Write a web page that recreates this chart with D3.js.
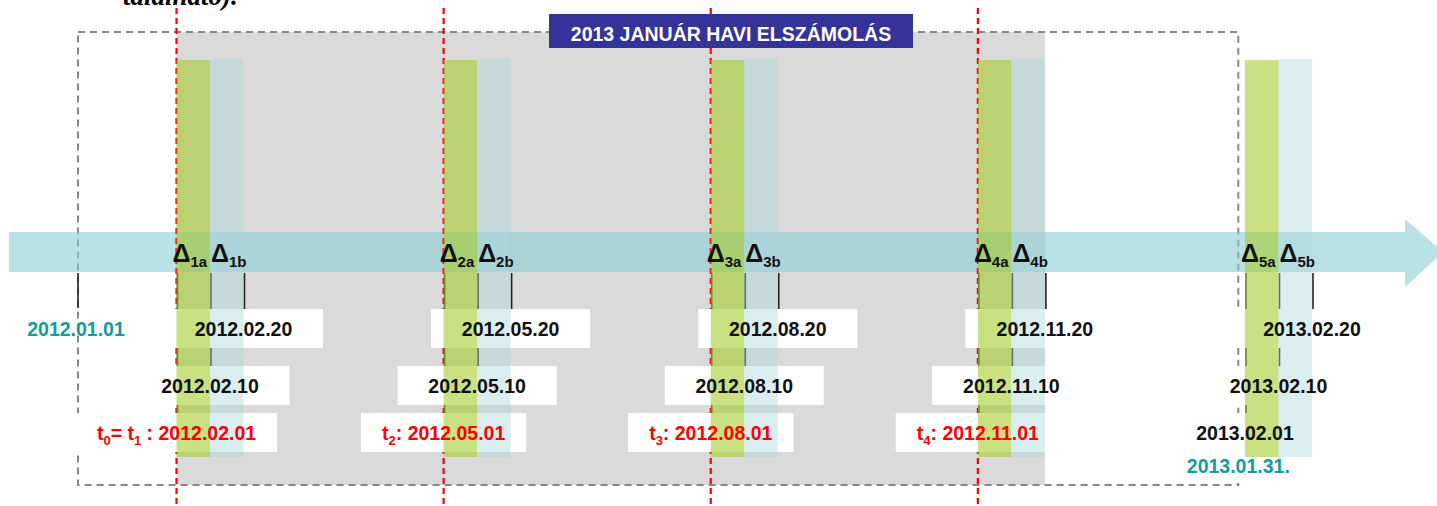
<!DOCTYPE html>
<html>
<head>
<meta charset="utf-8">
<script src="https://cdn.jsdelivr.net/npm/d3@7"></script>
<style>
  body { margin: 0; background: #fff; }
  text { font-family: "Liberation Sans", Arial, sans-serif; font-weight: bold; }
</style>
</head>
<body>
<script>
"use strict";

// adatok
const periodMonths = [1, 4, 7, 10, 13]; // hónap 2012.01-től számolva
const deltaIds = ["1", "2", "3", "4", "5"];
const firstDates = ["2012.02.01", "2012.05.01", "2012.08.01", "2012.11.01", "2013.02.01"];
const tenthDates = ["2012.02.10", "2012.05.10", "2012.08.10", "2012.11.10", "2013.02.10"];
const twentiethDates = ["2012.02.20", "2012.05.20", "2012.08.20", "2012.11.20", "2013.02.20"];
const tSubs = [["0", "1"], ["2"], ["3"], ["4"], null];
const settledPeriods = [0, 1, 2, 3]; // a januári elszámolásba eső időszakok
const startLabel = "2012.01.01";
const endLabel = "2013.01.31.";
const title = "2013 JANUÁR HAVI ELSZÁMOLÁS";

const width = 1437;
const height = 506;

// skálák
const xMonth = d3.scaleLinear().domain([0, 1, 13]).range([78, 176.5, 1245]);
const xDec = d3.scaleLinear().domain([0, 2]).range([0, 67]); // 1., 10., 20. nap
const xDate = (i, dec) => xMonth(periodMonths[i]) + xDec(dec);

const barTop = 60, barBottom = 457;
const arrowTop = 232, arrowBottom = 272;
const boxH = 39, boxW = 159;
const rows = [
  { dec: 2, labels: twentiethDates, top: 309 },
  { dec: 1, labels: tenthDates, top: 366 },
  { dec: 0, labels: firstDates, top: 413 },
];

const svg = d3.select("body").append("svg").attr("width", width).attr("height", height);

// levágott szöveg a lap tetején
svg.append("text")
  .attr("x", 123).attr("y", 5)
  .style("font-family", "'Liberation Serif', serif")
  .style("font-style", "italic")
  .attr("font-size", 27)
  .attr("fill", "#000")
  .text("található).");

// szürke háttér
const grayX0 = xMonth(periodMonths[0]);
const grayX1 = xDate(3, 2);
svg.append("rect")
  .attr("x", grayX0).attr("y", 32)
  .attr("width", grayX1 - grayX0).attr("height", 453)
  .attr("fill", "#dadada");

// szaggatott keret 2012.01.01 - 2013.01.31
const frameX0 = xMonth(0);
const frameX1 = xDate(4, -0.2);
svg.append("rect")
  .attr("x", frameX0).attr("y", 32)
  .attr("width", frameX1 - frameX0).attr("height", 453)
  .attr("fill", "none")
  .attr("stroke", "#888")
  .attr("stroke-width", 2)
  .attr("stroke-dasharray", "7,5");

// nyíl
const arrowMid = (arrowTop + arrowBottom) / 2;
svg.append("path")
  .attr("d", d3.line()([
    [9, arrowTop], [1405, arrowTop], [1405, 219], [1443, arrowMid],
    [1405, 287], [1405, arrowBottom], [9, arrowBottom],
  ]) + "Z")
  .attr("fill", "rgb(140,205,211)")
  .attr("fill-opacity", 0.6);

// piros szaggatott vonalak
svg.selectAll(".tline")
  .data(settledPeriods)
  .join("line")
  .attr("class", "tline")
  .attr("x1", (i) => xDate(i, 0)).attr("x2", (i) => xDate(i, 0))
  .attr("y1", 8).attr("y2", height)
  .attr("stroke", "#ff0000")
  .attr("stroke-width", 2.2)
  .attr("stroke-dasharray", "6,4");

// fekete jelölővonalak
const ticks = [];
periodMonths.forEach((m, i) => rows.forEach((r) => ticks.push({ x: xDate(i, r.dec) + 1, y2: r.top })));
ticks.push({ x: xMonth(0), y2: 308 });
svg.selectAll(".tick")
  .data(ticks)
  .join("line")
  .attr("x1", (d) => d.x).attr("x2", (d) => d.x)
  .attr("y1", arrowBottom + 1).attr("y2", (d) => d.y2)
  .attr("stroke", "#222")
  .attr("stroke-width", 1.6);

// rétegek
const boxLayer = svg.append("g");
const barLayer = svg.append("g");
const textLayer = svg.append("g");

// sávok (a: 1-10. nap, b: 10-20. nap)
periodMonths.forEach((m, i) => {
  barLayer.append("rect")
    .attr("x", xDate(i, 0)).attr("y", barTop)
    .attr("width", xDec(1)).attr("height", barBottom - barTop)
    .attr("fill", "rgb(165,205,45)").attr("fill-opacity", 0.6);
  barLayer.append("rect")
    .attr("x", xDate(i, 1)).attr("y", barTop - 1)
    .attr("width", xDec(2) - xDec(1)).attr("height", barBottom - barTop + 1)
    .attr("fill", "rgb(170,216,221)").attr("fill-opacity", 0.43);
});

// dátumcímkék fehér dobozokkal
rows.forEach((r) => {
  r.labels.forEach((lab, i) => {
    const cx = xDate(i, r.dec);
    const t = textLayer.append("text")
      .attr("x", cx).attr("y", r.top + 27)
      .attr("text-anchor", "middle")
      .attr("font-size", 19.5);
    const subs = r.dec === 0 ? tSubs[i] : null;
    if (subs) {
      t.attr("fill", "#ff0000");
      t.append("tspan").text("t");
      t.append("tspan").attr("dy", 5).attr("font-size", 13).text(subs[0]);
      if (subs.length > 1) {
        t.append("tspan").attr("dy", -5).text("= t");
        t.append("tspan").attr("dy", 5).attr("font-size", 13).text(subs[1]);
        t.append("tspan").attr("dy", -5).text(" : " + lab);
      } else {
        t.append("tspan").attr("dy", -5).text(": " + lab);
      }
    } else {
      t.attr("fill", "#111").text(lab);
    }
    const w = Math.max(boxW, t.node().getComputedTextLength() + 42);
    boxLayer.append("rect")
      .attr("x", cx - w / 2).attr("y", r.top)
      .attr("width", w).attr("height", boxH)
      .attr("fill", "#fff");
  });
});

// delta feliratok
periodMonths.forEach((m, i) => {
  ["a", "b"].forEach((s, k) => {
    const t = textLayer.append("text")
      .attr("x", xDate(i, k) - (k === 0 ? 4 : -1)).attr("y", 262)
      .attr("fill", "#111");
    t.append("tspan").attr("font-size", 25).text("Δ");
    t.append("tspan").attr("font-size", 15).attr("dy", 5).text(deltaIds[i] + s);
  });
});

// türkiz kezdő és záró dátum
textLayer.append("text")
  .attr("x", xMonth(0) - 2).attr("y", 336)
  .attr("text-anchor", "middle")
  .attr("font-size", 19.5)
  .attr("fill", "#129c9c")
  .text(startLabel);
boxLayer.append("rect")
  .attr("x", frameX1 - 60).attr("y", 453)
  .attr("width", 120).attr("height", 30)
  .attr("fill", "#fff");
textLayer.append("text")
  .attr("x", frameX1).attr("y", 473)
  .attr("text-anchor", "middle")
  .attr("font-size", 19.5)
  .attr("fill", "#129c9c")
  .text(endLabel);

// cím
const titleCx = 731;
svg.append("rect")
  .attr("x", titleCx - 182).attr("y", 14)
  .attr("width", 364).attr("height", 34)
  .attr("fill", "#333399");
svg.append("text")
  .attr("x", titleCx).attr("y", 41)
  .attr("text-anchor", "middle")
  .attr("font-size", 19.5)
  .attr("fill", "#fff")
  .text(title);
</script>
</body>
</html>
